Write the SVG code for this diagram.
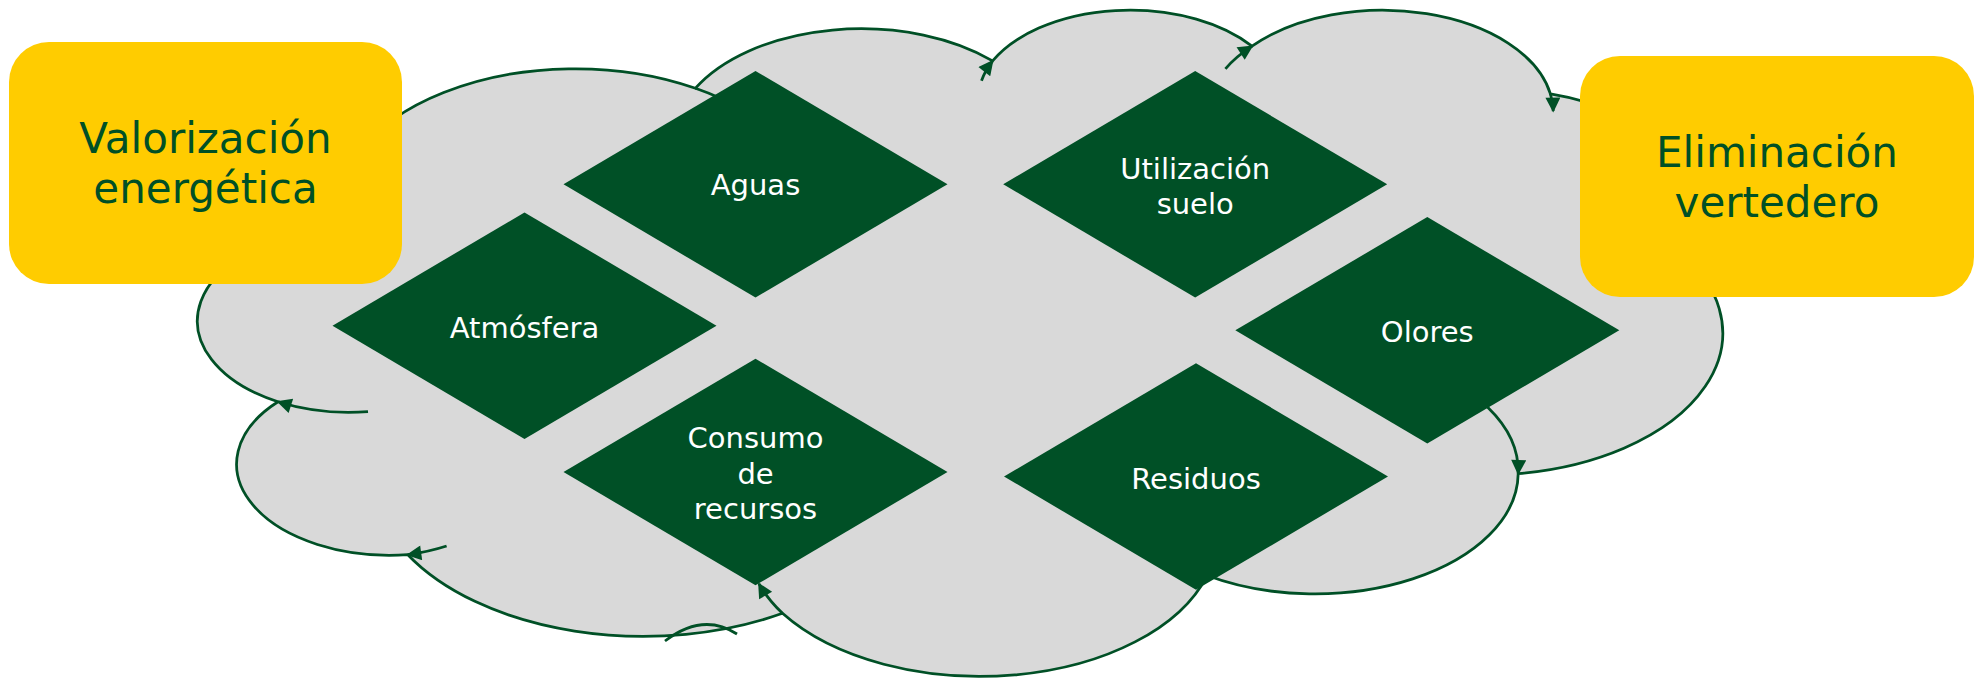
<svg xmlns="http://www.w3.org/2000/svg" width="1979" height="678" viewBox="0 0 1979 678">
<style>
.cloud{fill:#D9D9D9;stroke:#005026;stroke-width:2.75}
.crease{fill:none;stroke:#005026;stroke-width:2.75}
.dia{fill:#005026}
.box{fill:#FFCC00}
.lbl{font-family:"DejaVu Sans","Verdana",sans-serif;font-size:29px;fill:#FFFFFF;text-anchor:middle}
.big{font-family:"DejaVu Sans","Verdana",sans-serif;font-size:42px;fill:#005026;text-anchor:middle}
</style>
<defs>
<marker id="ah" viewBox="0 0 10 10" refX="9" refY="5" markerWidth="17" markerHeight="15" markerUnits="userSpaceOnUse" orient="auto">
<path d="M0,0 L10,5 L0,10 z" fill="#005026"/>
</marker>
</defs>
<rect width="1979" height="678" fill="#FFFFFF"/>
<g id="cloud">
<path class="cloud" d="M340.1,229.5 A237.45,141.68 0 0 1 695.45,88.21 A187.52,112.03 0 0 1 992.6,60.88 A153.48,91.65 0 0 1 1252,46.2 A170.78,101.67 0 0 1 1550.4,93.92 A187.52,112.13 0 0 1 1673.4,246.3 A238.22,142.14 0 0 1 1518.2,473.61 A203.41,121.28 0 0 1 1207.1,575.51 A237.41,142.06 0 0 1 782.5,613.32 A271.45,162.54 0 0 1 407.8,554.7 A153.31,91.24 0 0 1 278,401.73 A152.78,91.65 0 0 1 340.1,229.5 Z"/>
</g>
<g id="connectors">
<path class="crease" marker-end="url(#ah)" d="M368,411.6 A152.78,91.65 0 0 1 278,401.73"/>
<path class="crease" marker-end="url(#ah)" d="M446.6,546 A153.31,91.24 0 0 1 407.8,554.7"/>
<path class="crease" marker-end="url(#ah)" d="M782.5,613.32 A237.41,142.06 0 0 1 758.9,583.8"/>
<path class="crease" marker-end="url(#ah)" d="M1216.6,543.7 A237.41,142.06 0 0 1 1207.1,575.51"/>
<path class="crease" marker-end="url(#ah)" d="M1403.1,361.9 A203.41,121.28 0 0 1 1518.2,473.61"/>
<path class="crease" marker-end="url(#ah)" d="M1673.4,246.3 A187.52,112.13 0 0 1 1621.8,286"/>
<path class="crease" marker-end="url(#ah)" d="M1550.4,93.92 A170.78,101.67 0 0 1 1553.2,111.1"/>
<path class="crease" marker-end="url(#ah)" d="M1225.4,68.9 A170.78,101.67 0 0 1 1252,46.2"/>
<path class="crease" marker-end="url(#ah)" d="M981.5,80.8 A153.48,91.65 0 0 1 992.6,60.88"/>
<path class="crease" marker-end="url(#ah)" d="M695.45,88.21 A237.45,141.68 0 0 1 741,108.8"/>
<path class="crease" d="M665,641 Q703,612 737,634"/>
</g>
<g id="aguas">
<polygon class="dia" points="755.5,71 947.5,184.3 755.5,297.6 563.5,184.3"/>
<text class="lbl" x="755.5" y="195">Aguas</text>
</g>
<g id="utilizacion-suelo">
<polygon class="dia" points="1195.2,71 1387.2,184.3 1195.2,297.6 1003.2,184.3"/>
<text class="lbl" x="1195.2" y="179.3">Utilización</text>
<text class="lbl" x="1195.2" y="213.5">suelo</text>
</g>
<g id="atmosfera">
<polygon class="dia" points="524.5,212.4 716.5,325.7 524.5,439 332.5,325.7"/>
<text class="lbl" x="524.5" y="337.5">Atmósfera</text>
</g>
<g id="olores">
<polygon class="dia" points="1427.3,217 1619.3,330.3 1427.3,443.6 1235.3,330.3"/>
<text class="lbl" x="1427.3" y="341.5">Olores</text>
</g>
<g id="consumo-recursos">
<polygon class="dia" points="755.5,358.7 947.5,472 755.5,585.3 563.5,472"/>
<text class="lbl" x="755.5" y="448">Consumo</text>
<text class="lbl" x="755.5" y="483.5">de</text>
<text class="lbl" x="755.5" y="519">recursos</text>
</g>
<g id="residuos">
<polygon class="dia" points="1196,363.3 1388,476.5 1196,589.8 1004,476.5"/>
<text class="lbl" x="1196" y="489">Residuos</text>
</g>
<g id="valorizacion-energetica">
<rect class="box" x="9" y="42" width="393" height="242" rx="40" ry="40"/>
<text class="big" x="205.5" y="153">Valorización</text>
<text class="big" x="205.5" y="203">energética</text>
</g>
<g id="eliminacion-vertedero">
<rect class="box" x="1580" y="56" width="394" height="241" rx="40" ry="40"/>
<text class="big" x="1777" y="167">Eliminación</text>
<text class="big" x="1777" y="217">vertedero</text>
</g>
</svg>
